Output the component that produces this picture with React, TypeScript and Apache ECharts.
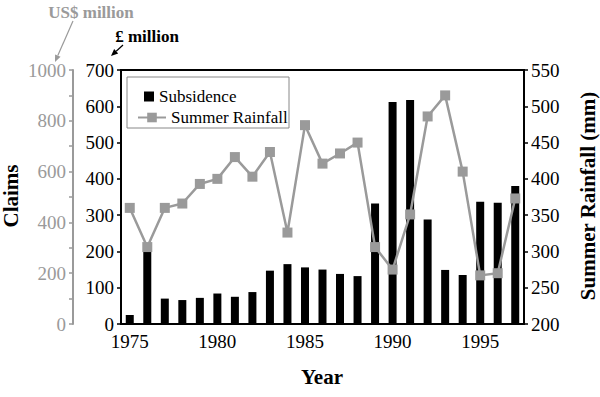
import React, { useEffect, useRef } from "react";
import * as echarts from "echarts";

const years = ["1975","1976","1977","1978","1979","1980","1981","1982","1983","1984","1985","1986","1987","1988","1989","1990","1991","1992","1993","1994","1995","1996","1997"];
const subsidence = [25, 200, 70, 66, 72, 84, 75, 88, 147, 165, 156, 150, 138, 132, 332, 612, 617, 288, 149, 135, 337, 334, 380];
const rainfall = [360, 306, 360, 366, 393, 400, 430, 403, 437, 326, 474, 421, 435, 450, 306, 275, 351, 486, 515, 410, 267, 270, 373];
const poundTicks = { min: 0, max: 700, interval: 100 };
const usdTicks = { min: 0, max: 1000, interval: 200 };
const rainTicks = { min: 200, max: 550, interval: 50 };

const SERIF = "Liberation Serif, Times New Roman, serif";
const GRAY = "#9a9a9a";

function arrow(x1: number, y1: number, x2: number, y2: number, color: string, len = 7, hw = 3) {
  const a = Math.atan2(y2 - y1, x2 - x1);
  const bx = x2 - len * Math.cos(a);
  const by = y2 - len * Math.sin(a);
  const nx = -Math.sin(a) * hw;
  const ny = Math.cos(a) * hw;
  return [
    { type: "line", shape: { x1, y1, x2: bx, y2: by }, style: { stroke: color, lineWidth: 1.2 } },
    { type: "polygon", shape: { points: [[x2, y2], [bx + nx, by + ny], [bx - nx, by - ny]] }, style: { fill: color } },
  ];
}

export default function App() {
  const ref = useRef<HTMLDivElement>(null);
  useEffect(() => {
    if (!ref.current) return;
    const chart = echarts.init(ref.current, null, { renderer: "svg" });
    const labelStyle = { fontFamily: SERIF, fontSize: 19, color: "#000" };
    chart.setOption({
      animation: false,
      backgroundColor: "#fff",
      textStyle: { fontFamily: SERIF },
      grid: { left: 121, right: 76, top: 70, bottom: 73, show: true, borderColor: "#000", borderWidth: 2, backgroundColor: "transparent" },
      legend: [
        {
          data: [{ name: "Subsidence", icon: "rect" }],
          left: 139, top: 83, orient: "vertical", itemWidth: 10, itemHeight: 10, itemGap: 5, selectedMode: false,
          textStyle: { fontFamily: SERIF, fontSize: 17, color: "#000" },
        },
        {
          data: ["Summer Rainfall"],
          left: 132, top: 104, orient: "vertical", itemWidth: 28, itemHeight: 12, selectedMode: false,
          textStyle: { fontFamily: SERIF, fontSize: 17, color: "#000" },
        },
      ],
      xAxis: {
        type: "category",
        data: years,
        boundaryGap: true,
        axisLine: { lineStyle: { color: "#000", width: 2 } },
        axisTick: { interval: 0, length: 4, lineStyle: { color: "#000", width: 1.5 } },
        axisLabel: { interval: 4, margin: 8, ...labelStyle },
        splitLine: { show: false },
      },
      yAxis: [
        {
          type: "value", position: "left", ...poundTicks,
          axisLine: { show: true, lineStyle: { color: "#000", width: 2 } },
          axisTick: { show: true, length: 4, lineStyle: { color: "#000", width: 1.5 } },
          axisLabel: { margin: 7, ...labelStyle },
          splitLine: { show: false },
        },
        {
          type: "value", position: "right", ...rainTicks,
          axisLine: { show: true, lineStyle: { color: "#000", width: 2 } },
          axisTick: { show: true, length: 4, lineStyle: { color: "#000", width: 1.5 } },
          axisLabel: { margin: 7, ...labelStyle },
          splitLine: { show: false },
        },
        {
          type: "value", position: "left", offset: 48, ...usdTicks,
          axisLine: { show: true, lineStyle: { color: GRAY, width: 2 } },
          axisTick: { show: true, length: 4, lineStyle: { color: GRAY, width: 1.5 } },
          minorTick: { show: true, splitNumber: 2, length: 4, lineStyle: { color: GRAY, width: 1.5 } },
          axisLabel: { margin: 7, ...labelStyle, color: GRAY, formatter: (v: number) => String(v) },
          splitLine: { show: false },
          minorSplitLine: { show: false },
        },
      ],
      series: [
        {
          name: "Subsidence", type: "bar", data: subsidence, yAxisIndex: 0, barWidth: 8,
          itemStyle: { color: "#000" }, z: 2,
        },
        {
          name: "Summer Rainfall", type: "line", data: rainfall, yAxisIndex: 1,
          symbol: "rect", symbolSize: 10, itemStyle: { color: GRAY }, lineStyle: { color: GRAY, width: 2.5 }, z: 3,
        },
      ],
      graphic: [
        { type: "rect", shape: { x: 127, y: 77, width: 162, height: 51 }, style: { fill: "#fff", stroke: "#888", lineWidth: 1 }, z: 1 },
        { type: "text", x: 91, y: 12, style: { text: "US$ million", fontFamily: SERIF, fontSize: 17, fontWeight: "bold", fill: GRAY, align: "center", verticalAlign: "middle" } },
        { type: "text", x: 147, y: 36, style: { text: "£ million", fontFamily: SERIF, fontSize: 17, fontWeight: "bold", fill: "#000", align: "center", verticalAlign: "middle" } },
        { type: "text", x: 11, y: 196, rotation: Math.PI / 2, style: { text: "Claims", fontFamily: SERIF, fontSize: 21, fontWeight: "bold", fill: "#000", align: "center", verticalAlign: "middle" } },
        { type: "text", x: 588, y: 196, rotation: Math.PI / 2, style: { text: "Summer Rainfall (mm)", fontFamily: SERIF, fontSize: 21, fontWeight: "bold", fill: "#000", align: "center", verticalAlign: "middle" } },
        { type: "text", x: 322, y: 377, style: { text: "Year", fontFamily: SERIF, fontSize: 21, fontWeight: "bold", fill: "#000", align: "center", verticalAlign: "middle" } },
        ...arrow(73, 21, 55, 62, GRAY),
        ...arrow(123, 45, 111, 56, "#000"),
      ],
    });
    return () => chart.dispose();
  }, []);
  return <div ref={ref} style={{ position: "fixed", left: 0, top: 0, width: 600, height: 397 }} />;
}
